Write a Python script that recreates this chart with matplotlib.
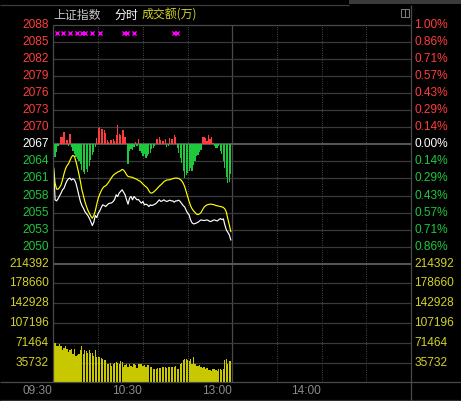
import matplotlib
matplotlib.use("Agg")
import matplotlib.pyplot as plt
from matplotlib.transforms import blended_transform_factory
from matplotlib.patches import Rectangle
import numpy as np

# ---------------------------------------------------------------- data
PREV_CLOSE = 2067.30

price_labels = ["2088", "2085", "2082", "2079", "2076", "2073", "2070",
                "2067", "2064", "2061", "2058", "2055", "2053", "2050"]
pct_labels = ["1.00%", "0.86%", "0.71%", "0.57%", "0.43%", "0.29%", "0.14%",
              "0.00%", "0.14%", "0.29%", "0.43%", "0.57%", "0.71%", "0.86%"]
price_steps = [7, 6, 5, 4, 3, 2, 1, 0, -1, -2, -3, -4, -5, -6]

vol_labels = ["214392", "178660", "142928", "107196", "71464", "35732"]
vol_ticks = [214392, 178660, 142928, 107196, 71464, 35732]

time_labels = ["09:30", "10:30", "13:00", "14:00"]
time_label_minutes = [0, 60, 120, 180]

# index price (white) per minute from 09:30
index_price = [
    2063.19, 2057.69, 2057.51, 2057.86, 2058.38, 2058.85, 2059.43, 2059.72, 2060.41, 2060.99,
    2061.34, 2061.45, 2061.11, 2061.34, 2061.16, 2060.58, 2059.54, 2058.44, 2057.40, 2056.70,
    2056.24, 2055.66, 2055.31, 2054.97, 2054.50, 2053.92, 2053.23, 2053.81, 2054.97, 2054.62,
    2055.37, 2055.78, 2056.36, 2056.82, 2056.70, 2056.53, 2056.82, 2057.05, 2057.11, 2057.17,
    2057.40, 2057.75, 2058.56, 2058.27, 2058.85, 2059.14, 2059.43, 2059.02, 2058.56, 2057.69,
    2056.94, 2057.98, 2058.27, 2057.69, 2058.27, 2057.98, 2057.69, 2057.75, 2057.40, 2057.11,
    2057.40, 2056.82, 2056.94, 2056.82, 2056.53, 2056.82, 2056.70, 2056.82, 2056.94, 2057.11,
    2057.40, 2057.69, 2057.40, 2057.51, 2057.69, 2057.51, 2057.40, 2057.51, 2057.63, 2057.51,
    2057.51, 2057.28, 2057.51, 2057.51, 2057.63, 2057.40, 2057.05, 2056.70, 2056.47, 2055.89,
    2055.37, 2055.08, 2054.21, 2053.69, 2053.52, 2053.58, 2053.69, 2053.81, 2054.04, 2054.21,
    2054.15, 2054.10, 2054.15, 2054.21, 2054.10, 2053.92, 2053.98, 2054.15, 2054.21, 2054.10,
    2054.04, 2054.27, 2054.44, 2054.27, 2054.39, 2053.34, 2052.48, 2052.07, 2051.61, 2050.74,
]

# unweighted index (yellow) per minute
lead_price = [
    2063.19, 2060.58, 2059.54, 2059.54, 2059.83, 2060.29, 2061.16, 2062.21, 2063.07, 2063.60,
    2063.94, 2064.52, 2065.10, 2065.39, 2065.22, 2064.35, 2063.31, 2062.15, 2060.87, 2059.43,
    2058.44, 2057.40, 2056.59, 2055.89, 2055.37, 2054.85, 2054.50, 2054.97, 2055.78, 2056.94,
    2057.98, 2058.67, 2059.25, 2059.72, 2060.00, 2060.12, 2060.41, 2060.76, 2061.16, 2061.57,
    2061.92, 2062.15, 2062.32, 2062.50, 2062.61, 2062.73, 2062.96, 2062.84, 2062.50, 2062.03,
    2061.74, 2061.68, 2061.63, 2061.57, 2061.45, 2061.34, 2061.22, 2061.05, 2060.93, 2060.70,
    2060.41, 2060.18, 2059.95, 2059.72, 2059.25, 2058.90, 2058.85, 2059.02, 2059.25, 2059.48,
    2059.77, 2060.06, 2060.29, 2060.53, 2060.82, 2060.99, 2061.11, 2061.16, 2061.16, 2061.28,
    2061.34, 2061.45, 2061.45, 2061.45, 2061.39, 2061.22, 2060.99, 2060.58, 2060.00, 2059.14,
    2058.27, 2057.40, 2056.65, 2056.12, 2055.78, 2055.49, 2055.20, 2055.14, 2055.26, 2055.49,
    2055.95, 2056.41, 2056.65, 2056.82, 2056.88, 2056.94, 2056.94, 2056.88, 2056.82, 2056.70,
    2056.65, 2056.59, 2056.53, 2056.47, 2056.36, 2056.12, 2055.55, 2054.39, 2053.34, 2052.19,
]

# buy/sell strength indicator (positive = red, negative = green)
strength = [
    -22, -13, -8, -2, 0, 7, 7, 12, 0, 4,
    -2, 10, -3, -7, -10, -13, -15, -17, -20, -26,
    -28, -30, -25, -28, -22, -16, -11, -8, -3, 6,
    16, 17, 15, 15, 14.7, 11, 4.7, 2, 4, 4,
    5.7, 3, 9.7, 19.7, 10, 9, 14, 14, 7, 0,
    -20, -7, -5, -6, -3, 2.7, -2, 5, -7, -9,
    -12, -10, -14, -12, -10, -9, -5, -4, -2, 5.7,
    5.7, 7.7, 4.7, 3, 3.7, 5.7, -3, -2, 6.7, 5,
    5.7, 9.7, 7.7, -3.7, -8.7, -13.7, -18.7, -27, -33.7, -30.3,
    -28.7, -27, -23.7, -27, -20.3, -17, -12, -10.3, -8, -5.3,
    7, 7.7, 6.4, 3.7, 9.7, 5.7, 7, 1.7, -2, -3.7,
    -3.7, -2, -7, -10, -17, -24, -33, -38, -37, -30,
]
STRENGTH_SCALE = 0.174  # index points per indicator unit

# turnover per minute (万)
turnover = [
    196000, 70900, 64900, 64900, 69700, 64900, 59000, 62500, 64900, 60700,
    54800, 57800, 60700, 50600, 60700, 47000, 50000, 50600, 57800, 64900,
    51800, 59000, 56600, 53600, 57800, 53600, 53600, 47000, 59000, 45300,
    45300, 45300, 44000, 41700, 39900, 39900, 33900, 32800, 35100, 29200,
    33900, 35100, 36300, 35100, 33900, 38700, 36900, 26800, 30400, 32200,
    26800, 32800, 29200, 26800, 32800, 30400, 26200, 32800, 33900, 32800,
    29200, 30400, 28000, 30400, 30400, 26800, 26800, 23200, 24400, 23200,
    25000, 26200, 25000, 26800, 26800, 26800, 25000, 26800, 28000, 26800,
    28000, 26800, 29200, 24400, 24400, 33900, 35100, 41100, 42900, 42300,
    39900, 38100, 41700, 33900, 45300, 33900, 29200, 29200, 30400, 26800,
    25000, 26800, 23200, 25000, 22000, 22000, 20200, 24400, 23800, 22000,
    20800, 23200, 23200, 22000, 23200, 41100, 42300, 33900, 38100, 38700,
]

# minutes with big-order signals
signal_minutes = [2, 6, 11, 16, 19, 21, 26, 31, 47, 49, 54, 81, 83]

# ---------------------------------------------------------------- style
W, H = 461, 401
BG = "black"
GRID = "#3a3a3a"
FRAME = "#4a4a4a"
RED = "#ff3c3c"
GREEN = "#1ec83c"
YEL_TXT = "#d2d228"
VOL_YEL = "#c8c800"
GREY_TXT = "#8a8a8a"
NUM_FONT = "Liberation Sans"
CJK = ["Noto Sans CJK SC", "DejaVu Sans"]
FS = 8.6


def fx(px):
    return px / W


def fy(py):
    return 1 - py / H


fig = plt.figure(figsize=(W / 100, H / 100), dpi=100, facecolor=BG)

LEFT, RIGHT = 53, 411
TOP, SEP, BOT = 25, 263.7, 382.3

ax_p = fig.add_axes([fx(LEFT), fy(SEP), fx(RIGHT - LEFT), (SEP - TOP) / H])
ax_v = fig.add_axes([fx(LEFT), fy(BOT), fx(RIGHT - LEFT), (BOT - SEP) / H])

minutes = np.arange(len(index_price))
for ax in (ax_p, ax_v):
    ax.set_facecolor(BG)
    ax.set_xlim(-0.4, 240)
    for s in ax.spines.values():
        s.set_visible(False)
    ax.set_xticks([])
    ax.set_yticks([])
    # session dividers
    for m in (30, 60, 90, 150, 180, 210):
        ax.axvline(m, color="#5a5a5a", lw=0.75, ls=(0, (0.75, 1.5)), zorder=0)
    ax.axvline(120, color=FRAME, lw=0.9, zorder=0)

# ----------------------------------------------------------- price panel
ax_p.set_ylim(PREV_CLOSE * (1 - 0.01), PREV_CLOSE * (1 + 0.01))
for k in range(-6, 7):
    y = PREV_CLOSE * (1 + k / 700)
    if k == 0:
        ax_p.axhline(y, color="#555555", lw=1.5, zorder=0)
    else:
        ax_p.axhline(y, color=GRID, lw=0.9, zorder=0)

s_arr = np.array(strength) * STRENGTH_SCALE
bar_cols = [RED if v > 0 else GREEN for v in s_arr]
ax_p.bar(minutes, s_arr, bottom=PREV_CLOSE, width=0.8, color=bar_cols,
         linewidth=0, zorder=1)
ax_p.plot(minutes, lead_price, color="#ffff00", lw=0.85, zorder=3)
ax_p.plot(minutes, index_price, color="white", lw=0.85, zorder=4)

sig_tr = blended_transform_factory(ax_p.transData, ax_p.transAxes)
ax_p.scatter(signal_minutes, [0.966] * len(signal_minutes), marker="x",
             s=9, linewidths=1.0, color="#ff00ff", transform=sig_tr,
             zorder=5, clip_on=False)

lab_tr = blended_transform_factory(ax_p.transAxes, ax_p.transData)
left_off = -4.3 / (RIGHT - LEFT)
right_off = 1 + 3.2 / (RIGHT - LEFT)
for lab, pct, k in zip(price_labels, pct_labels, price_steps):
    y = PREV_CLOSE * (1 + k / 700)
    col = RED if k > 0 else ("white" if k == 0 else GREEN)
    ax_p.text(left_off, y, lab, transform=lab_tr, ha="right", va="center",
              color=col, fontsize=FS, family=NUM_FONT, clip_on=False)
    ax_p.text(right_off, y, pct, transform=lab_tr, ha="left", va="center",
              color=col, fontsize=FS, family=NUM_FONT, clip_on=False)

# ---------------------------------------------------------- volume panel
ax_v.set_ylim(0, vol_ticks[0])
for v in vol_ticks[1:]:
    ax_v.axhline(v, color=GRID, lw=0.9, zorder=0)
ax_v.bar(minutes, turnover, width=0.8, color=VOL_YEL, linewidth=0, zorder=2)

vtr = blended_transform_factory(ax_v.transAxes, ax_v.transData)
for lab, v in zip(vol_labels, vol_ticks):
    ax_v.text(left_off, v, lab, transform=vtr, ha="right", va="center",
              color=YEL_TXT, fontsize=FS, family=NUM_FONT, clip_on=False)
    ax_v.text(right_off, v, lab, transform=vtr, ha="left", va="center",
              color=YEL_TXT, fontsize=FS, family=NUM_FONT, clip_on=False)

ttr = blended_transform_factory(ax_v.transData, ax_v.transAxes)
t_y = -(390.7 - BOT) / (BOT - SEP)
for lab, m in zip(time_labels, time_label_minutes):
    ax_v.text(m - 0.6, t_y, lab, transform=ttr, ha="right", va="center",
              color=GREY_TXT, fontsize=FS, family=NUM_FONT, clip_on=False)

# ---------------------------------------------------------- frame overlay
ov = fig.add_axes([0, 0, 1, 1], zorder=10)
ov.set_xlim(0, W)
ov.set_ylim(H, 0)
ov.axis("off")
ov.patch.set_alpha(0)


def hline(y, x0, x1, col=FRAME, lw=0.9):
    ov.plot([x0, x1], [y, y], color=col, lw=lw, solid_capstyle="butt")


def vline(x, y0, y1, col=FRAME, lw=0.9):
    ov.plot([x, x], [y0, y1], color=col, lw=lw, solid_capstyle="butt")


hline(4.5, 0, 349, "#3c3c3c")
ov.add_patch(Rectangle((349, 0), W - 349, 3.5, color="#3a3a3a", lw=0))
hline(TOP, LEFT, RIGHT)
hline(SEP, LEFT, RIGHT, "#555555", 1.5)
hline(BOT, 0, W)
hline(399.5, 0, W, "#2c2c2c")
vline(LEFT, TOP, BOT)
vline(RIGHT, 5, H)

# panel-split icon
ov.add_patch(Rectangle((400.5, 9), 8, 8, fill=False, ec="#7a7a7a", lw=0.75))
vline(404.5, 9, 17, "#7a7a7a", 0.75)

# title
ov.text(53.3, 15, "上证指数", color="#c8c8c8", fontsize=FS, family=CJK,
        ha="left", va="center")
ov.text(114, 15, "分时", color="white", fontsize=FS, family=CJK,
        ha="left", va="center")
ov.text(142, 15, "成交额(万)", color=YEL_TXT, fontsize=FS, family=CJK,
        ha="left", va="center")

fig.savefig("out.png", dpi=100, facecolor=BG)
